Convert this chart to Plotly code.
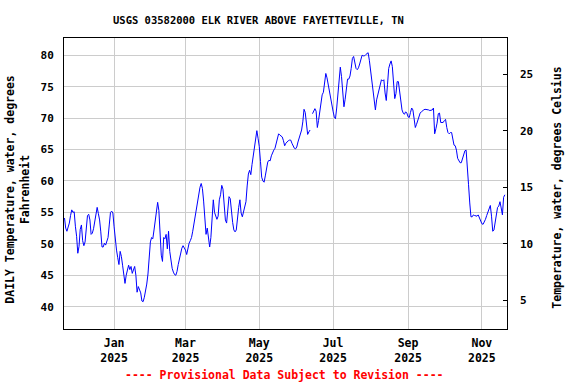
import pandas as pd
import plotly.graph_objects as go

# Daily water temperature (deg F), starting 2024-11-21
start_date = "2024-11-21"
temp_f_part1 = [
    54.1, 52.5, 52.0, 52.5, 53.3, 54.5, 55.4, 55.0, 55.1, 52.8,
    51.2, 48.5, 49.6, 52.3, 53.0, 50.5, 49.7, 50.3, 52.3, 54.5,
    54.7, 53.8, 51.5, 51.7, 52.4, 53.5, 55.1, 55.8, 54.8, 53.8,
    51.9, 49.5, 49.5, 50.1, 49.8, 50.3, 51.0, 53.0, 55.0, 55.2,
    54.9, 52.7, 50.2, 49.0, 47.8, 46.7, 48.8, 48.0, 46.6, 45.0,
    43.7, 45.0, 45.8, 46.6, 45.9, 46.4, 45.3, 45.9, 46.4, 45.0,
]
temp_f_part2 = [
    42.3, 43.2, 42.8, 42.2, 40.9, 40.8, 41.5, 42.5, 43.6, 45.2,
    47.8, 50.3, 51.0, 50.8, 52.2, 54.0, 55.8, 56.6, 55.3, 51.5,
    48.2, 47.2, 51.0, 50.8, 51.5, 49.2, 52.0, 48.8, 47.0, 46.1,
    45.5, 45.1, 45.0, 45.6, 46.7, 47.6, 48.5, 49.3, 49.7, 49.4,
    49.0, 48.3, 49.3, 50.1, 50.5, 51.0, 52.0, 53.2, 54.2, 55.0,
    56.1, 57.5, 59.0, 59.6, 58.8, 56.8, 54.5, 51.5, 52.5, 50.5,
]
temp_f_part3 = [
    49.5, 51.0, 53.5, 57.0, 55.0, 54.2, 53.9, 54.4, 57.0, 57.8,
    59.3, 58.7, 56.7, 53.8, 53.3, 54.9, 57.5, 57.2, 54.7, 53.4,
    52.2, 51.9, 52.2, 54.3, 55.8, 57.0, 54.9, 54.3, 55.0, 55.8,
    56.7, 59.2, 61.1, 61.7, 61.0, 62.6, 64.0, 65.8, 67.2, 68.0,
    66.8, 65.5, 63.1, 60.6, 60.0, 59.8, 60.8, 62.3, 63.0, 63.3,
    63.2, 64.0, 64.6, 64.9, 65.2, 66.0, 67.2, 67.5, 67.3, 67.1,
]
temp_f_part4 = [
    67.0, 66.4, 65.6, 66.0, 66.3, 66.4, 66.5, 66.5, 66.0, 65.6,
    65.2, 65.1, 65.4, 66.2, 66.8, 67.4, 68.1, 69.4, 71.4, 70.9,
    68.6, 67.4, 67.8, 68.1, None, 70.7, 71.2, 71.5, 71.1, 68.5,
    69.6, 71.0, 72.2, 73.7, 74.1, 75.6, 77.1, 76.4, 75.3, 73.8,
    72.8, 72.0, 71.1, 70.2, 69.9, 71.6, 73.7, 76.4, 78.1, 76.6,
    73.7, 71.8, 73.0, 74.9, 76.2, 76.2, 76.7, 77.9, 79.5, 79.8,
]
temp_f_part5 = [
    78.8, 77.9, 77.7, 78.0, 78.6, 79.6, 80.0, 79.9, 79.9, 80.1,
    80.3, 80.4, 79.2, 77.5, 75.5, 74.0, 72.1, 71.3, 72.9, 73.7,
    74.7, 75.6, 76.1, 75.9, 76.1, 74.0, 72.8, 75.3, 77.9, 78.6,
    79.1, 78.2, 75.5, 73.1, 73.9, 75.8, 75.8, 74.2, 72.4, 71.3,
    70.8, 70.6, 71.0, 70.8, 70.2, 70.1, 70.9, 71.6, 71.3, 69.5,
    68.5, 69.0, 69.6, 70.2, 70.8, 71.0, 71.2, 71.3, 71.4, 71.4,
]
temp_f_part6 = [
    71.3, 71.3, 71.2, 71.2, 71.3, 71.6, 67.5, 68.3, 69.2, 70.7,
    70.8, 69.3, 69.3, 69.3, 69.6, 69.8, 68.5, 67.7, 67.5, 67.7,
    67.7, 66.5, 65.7, 65.6, 64.9, 63.6, 63.1, 62.9, 62.9, 63.6,
    64.3, 64.8, 64.9, 62.7, 59.4, 56.5, 54.3, 54.3, 54.6, 54.5,
    54.5, 54.4, 54.6, 54.1, 53.5, 53.2, 53.1, 53.4, 53.9, 54.5,
    55.1, 55.8, 56.1, 54.4, 52.0, 52.2, 53.4, 54.6, 55.8, 56.0,
    56.7, 55.7, 54.6, 57.4, 57.8,
]
temp_f = (temp_f_part1 + temp_f_part2 + temp_f_part3
          + temp_f_part4 + temp_f_part5 + temp_f_part6)
dates = pd.date_range(start_date, periods=len(temp_f), freq="D")

x_tick_dates = ["2025-01-01", "2025-03-01", "2025-05-01",
                "2025-07-01", "2025-09-01", "2025-11-01"]
x_tick_text = ["Jan<br>2025", "Mar<br>2025", "May<br>2025",
               "Jul<br>2025", "Sep<br>2025", "Nov<br>2025"]
f_ticks = [40, 45, 50, 55, 60, 65, 70, 75, 80]
c_ticks = [5, 10, 15, 20, 25]

f_range = [36.45, 82.74]
c_range = [(v - 32) / 1.8 for v in f_range]

FONT = "DejaVu Sans Mono"

fig = go.Figure()
fig.add_trace(go.Scatter(x=dates, y=temp_f, mode="lines",
                         line=dict(color="#0000FF", width=1),
                         connectgaps=False, showlegend=False))
# invisible trace to activate right axis
fig.add_trace(go.Scatter(x=[dates[0]], y=[None], yaxis="y2",
                         showlegend=False, hoverinfo="skip"))

fig.update_layout(
    width=576, height=384,
    margin=dict(l=64, r=69, t=38, b=55, autoexpand=False),
    paper_bgcolor="white", plot_bgcolor="white",
    font=dict(family=FONT, size=11, color="black", weight="bold"),
    xaxis=dict(
        range=["2024-11-20 14:00", "2025-11-21 19:00"],
        tickvals=x_tick_dates, ticktext=x_tick_text,
        showgrid=True, gridcolor="#CCCCCC", gridwidth=1,
        showline=True, linecolor="black", linewidth=1, mirror=True,
        ticks="", zeroline=False, ticklabelstandoff=3, automargin=False,
        tickfont=dict(family=FONT, size=11.5, weight="bold"),
    ),
    yaxis=dict(
        range=f_range, tickvals=f_ticks,
        showgrid=True, gridcolor="#CCCCCC", gridwidth=1,
        showline=True, linecolor="black", linewidth=1, mirror=True,
        ticks="", zeroline=False, ticklabelstandoff=7, automargin=False,
        tickfont=dict(family=FONT, size=11, weight="bold"),
    ),
    yaxis2=dict(
        range=c_range, tickvals=c_ticks, overlaying="y", side="right",
        showgrid=False, showline=False, zeroline=False,
        ticks="inside", ticklen=4, tickcolor="black", tickwidth=1,
        ticklabelstandoff=12, automargin=False,
        tickfont=dict(family=FONT, size=11, weight="bold"),
    ),
    annotations=[
        dict(text="USGS 03582000 ELK RIVER ABOVE FAYETTEVILLE, TN",
             xref="paper", yref="paper", x=(258 - 64) / 443, y=(329 - 20) / 291,
             xanchor="center", yanchor="middle", showarrow=False,
             font=dict(family=FONT, size=10.5, weight="bold")),
        dict(text="DAILY Temperature, water, degrees<br>Fahrenheit",
             xref="paper", yref="paper", x=(17.7 - 64) / 443, y=(329 - 190) / 291,
             xanchor="center", yanchor="middle", textangle=-90, showarrow=False,
             font=dict(family=FONT, size=11.5, weight="bold")),
        dict(text="Temperature, water, degrees Celsius",
             xref="paper", yref="paper", x=(556.7 - 64) / 443, y=(329 - 188) / 291,
             xanchor="center", yanchor="middle", textangle=-90, showarrow=False,
             font=dict(family=FONT, size=11.5, weight="bold")),
        dict(text="---- Provisional Data Subject to Revision ----",
             xref="paper", yref="paper", x=(284.5 - 64) / 443, y=(329 - 375) / 291,
             xanchor="center", yanchor="middle", showarrow=False,
             font=dict(family=FONT, size=11.5, color="#FF0000", weight="bold")),
    ],
)

fig.write_html("out.html",
               config={"displayModeBar": False},
               post_script="document.body.style.margin='0';"
                           "document.body.style.padding='0';")
